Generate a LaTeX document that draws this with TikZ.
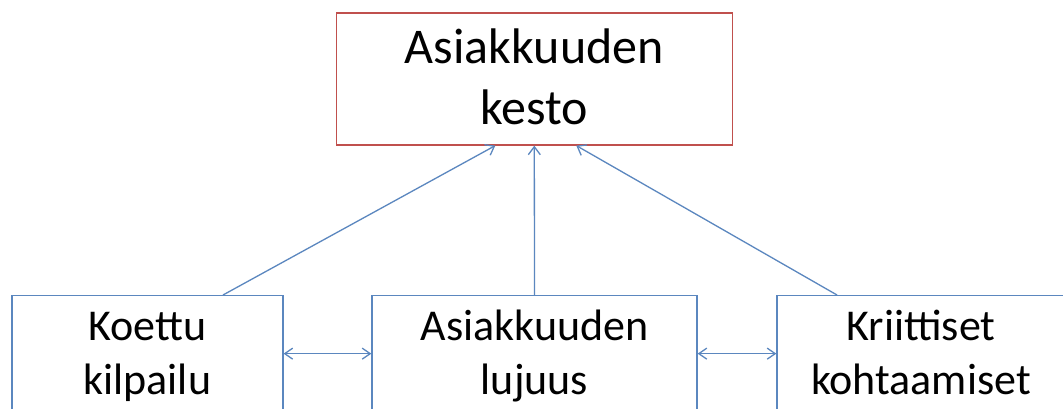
\documentclass[tikz,border=0pt]{standalone}
\usepackage{fontspec}
\setmainfont{Carlito}
\usetikzlibrary{arrows.meta}
\definecolor{boxblue}{HTML}{5B87BF}
\definecolor{boxred}{HTML}{C0504D}
% a taller strut for the first line of the heading box
\newcommand\headstrut{\rule{0pt}{48.7pt}}
\tikzset{
  topbox/.style={draw=boxred, line width=1.2pt, minimum width=396pt, minimum height=132pt,
    align=center, font=\fontsize{50}{61}\selectfont, inner sep=0pt},
  lowbox/.style={draw=boxblue, line width=1.3pt, anchor=north, minimum height=122pt,
    align=center, font=\fontsize{44}{54}\selectfont, inner sep=0pt},
  link/.style={draw=boxblue, line width=1.3pt, -{Straight Barb[length=8pt,width=12pt]}},
  twoway/.style={draw=boxblue, line width=1.3pt, {Straight Barb[length=8pt,width=11pt]}-{Straight Barb[length=8pt,width=11pt]}}
}
\begin{document}
\begin{tikzpicture}[x=1pt, y=-1pt]
\useasboundingbox (0,0) rectangle (1063,409);
\clip (0,0) rectangle (1063,409);
\fill[white] (0,0) rectangle (1063,409);

% outcome at the top
\node[topbox] (kesto) at (534.3,79) {\headstrut Asiakkuuden\\\strut kesto};

% three factors along the bottom
\node[lowbox, minimum width=271pt] (kilpailu) at (147.4,295) {\strut Koettu\\\strut kilpailu};
\node[lowbox, minimum width=325pt] (lujuus) at (534.5,295) {\strut Asiakkuuden\\\strut lujuus};
\node[lowbox, minimum width=288pt] (kohtaamiset) at (921,295) {\strut Kriittiset\\\strut kohtaamiset};

% influences on the outcome
\draw[link] ([xshift=75.6pt]kilpailu.north) -- ([xshift=-39pt]kesto.south);
\draw[link] (lujuus.north) -- (kesto.south);
\draw[link] ([xshift=-84pt]kohtaamiset.north) -- ([xshift=42pt]kesto.south);

% mutual links between the factors
\draw[twoway] ([yshift=3pt]kilpailu.east) -- ([yshift=3pt]lujuus.west);
\draw[twoway] ([yshift=3pt]lujuus.east) -- ([yshift=3pt]kohtaamiset.west);
\end{tikzpicture}
\end{document}
